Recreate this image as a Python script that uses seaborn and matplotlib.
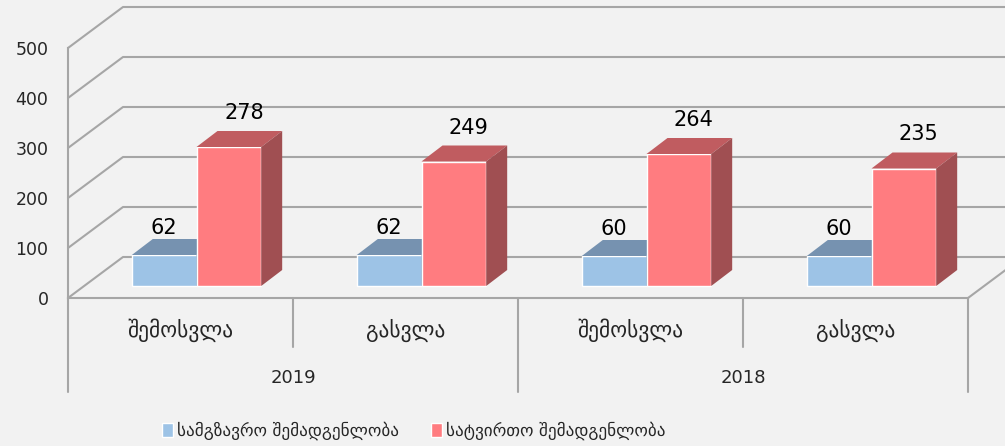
import matplotlib
matplotlib.use('Agg')
import matplotlib.pyplot as plt
from matplotlib.patches import Polygon, Patch
import seaborn as sns
import pandas as pd

# data
years = ['2019', '2019', '2018', '2018']
directions = ['შემოსვლა', 'გასვლა', 'შემოსვლა', 'გასვლა']
passenger = [62, 62, 60, 60]
freight = [278, 249, 264, 235]
series = ['სამგზავრო შემადგენლობა', 'სატვირთო შემადგენლობა']
y_ticks = [0, 100, 200, 300, 400, 500]

front_colors = ['#9DC3E6', '#FF7C80']
top_colors = ['#7692B0', '#C05C60']
side_colors = ['#7A9AB8', '#A04F52']
bg = '#F2F2F2'
grid_c = '#A6A6A6'

slots = [f'{y} {d}' for y, d in zip(years, directions)]
df = pd.DataFrame({
    'slot': slots * 2,
    'value': passenger + freight,
    'series': [series[0]] * 4 + [series[1]] * 4,
})

sns.set_style('white')
plt.rcParams['font.family'] = ['DejaVu Sans']

fig = plt.figure(figsize=(10.05, 4.46), dpi=100, facecolor=bg)
ax = fig.add_axes([68 / 1005, 148 / 446, 900 / 1005, 250 / 446])
ax.set_facecolor('none')

sns.barplot(data=df, x='slot', y='value', hue='series', order=slots,
            hue_order=series, palette=front_colors, width=0.575,
            saturation=1, errorbar=None, legend=False, ax=ax)
ax.set_xlim(-0.5, 3.5)
ax.set_ylim(0, 500)

# pixel -> data units, for the fake 3d depth
pos = ax.get_position()
ux = 4 / (pos.width * fig.get_figwidth() * fig.dpi)
uy = 500 / (pos.height * fig.get_figheight() * fig.dpi)
fx, fy = 16 * ux, 12 * uy      # bar front plane
bx, by = 37 * ux, 28 * uy      # bar back plane
wx, wy = 55 * ux, 41 * uy      # back wall

# back wall gridlines + side wall
for t in y_ticks:
    ax.plot([-0.5, -0.5 + wx, 4.5], [t, t + wy, t + wy], color=grid_c,
            lw=1.5, zorder=0, clip_on=False)
ax.plot([3.5, 3.5 + wx], [0, wy], color=grid_c, lw=1.5, zorder=0, clip_on=False)

# 3d bars: shift front faces, add top and side faces
label_dx = [0, 15]
label_dy = [11, 18]
for k, cont in enumerate(ax.containers):
    for p in cont.patches:
        x0, w, h = p.get_x(), p.get_width(), p.get_height()
        p.set_x(x0 + fx)
        p.set_y(fy)
        p.set_clip_on(False)
        p.set_zorder(2 + k)
        top = Polygon([(x0 + fx, h + fy), (x0 + w + fx, h + fy),
                       (x0 + w + bx, h + by), (x0 + bx, h + by)],
                      closed=True, facecolor=top_colors[k], edgecolor='none',
                      zorder=2.1 + k, clip_on=False)
        side = Polygon([(x0 + w + fx, fy), (x0 + w + bx, by),
                        (x0 + w + bx, h + by), (x0 + w + fx, h + fy)],
                       closed=True, facecolor=side_colors[k], edgecolor='none',
                       zorder=2.1 + k, clip_on=False)
        ax.add_patch(top)
        ax.add_patch(side)
        ax.text(x0 + w / 2 + fx + label_dx[k] * ux, h + by + label_dy[k] * uy,
                f'{h:g}', ha='center', va='center', fontsize=15, color='black',
                zorder=5)

# axes styling
for s in ['top', 'right']:
    ax.spines[s].set_visible(False)
for s in ['left', 'bottom']:
    ax.spines[s].set_color(grid_c)
    ax.spines[s].set_linewidth(1.5)
ax.set_yticks(y_ticks)
ax.set_yticklabels([str(t) for t in y_ticks])
ax.tick_params(axis='y', length=3, width=1.2, color=grid_c, labelsize=12.5, pad=11)
ax.set_xticks([])
ax.set_xlabel('')
ax.set_ylabel('')

# two level category axis
trans = ax.get_xaxis_transform()
ay = 1 / (pos.height * fig.get_figheight() * fig.dpi)
for i, xb in enumerate([-0.5, 0.5, 1.5, 2.5, 3.5]):
    depth = 94 if i % 2 == 0 else 49
    ax.plot([xb, xb], [0, -depth * ay], transform=trans, color=grid_c,
            lw=1.5, clip_on=False)
for i, d in enumerate(directions):
    ax.text(i, -32 * ay, d, transform=trans, ha='center', va='center',
            fontsize=15.5)
for g in range(0, len(years), 2):
    ax.text(g + 0.5, -80 * ay, years[g], transform=trans, ha='center',
            va='center', fontsize=13)

handles = [Patch(facecolor=c, label=s) for c, s in zip(front_colors, series)]
fig.legend(handles=handles, loc='center', bbox_to_anchor=(414 / 1005, 1 - 431 / 446),
           ncol=2, frameon=False, fontsize=12.3, handlelength=0.6,
           handleheight=0.95, handletextpad=0.25, columnspacing=1.9)

fig.savefig('out.png', dpi=100, facecolor=bg)
